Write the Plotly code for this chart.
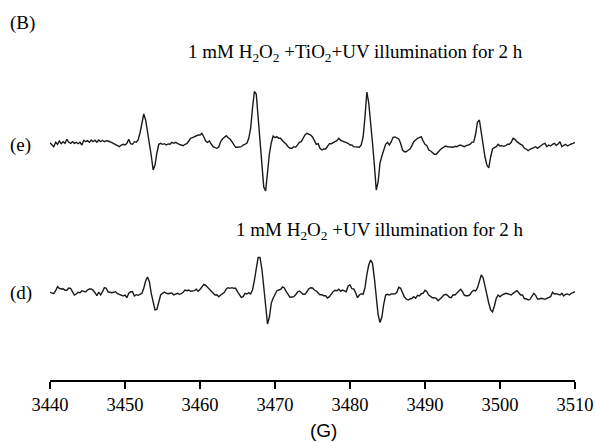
import numpy as np
import plotly.graph_objects as go

# Magnetic field sweep (G), uniform 0.25 G sampling of the spectrometer
field_start = 3440.0
field_step = 0.25
tick_values = [3440, 3450, 3460, 3470, 3480, 3490, 3500, 3510]
axis_title = "(G)"
label_e = "(e)"
label_d = "(d)"
panel_label = "(B)"
title_e = "1 mM H<sub>2</sub>O<sub>2</sub> +TiO<sub>2</sub>+UV illumination for 2 h"
title_d = "1 mM H<sub>2</sub>O<sub>2</sub> +UV illumination for 2 h"

# Spectrum (e): 1 mM H2O2 + TiO2 + UV, intensity (a.u.)
spectrum_e = [
    2.3, 0.7, -1.7, 2.7, 0.7, 4, 1.3, 3.3, 1.7, 5.7,
    2.7, 1.7, 3.3, 1.7, 2.7, 1.3, 2.7, 0, 4.7, 3.3,
    4.3, 2.7, 5, 3.3, 4.7, 2.7, 5, 3.3, 4.7, 3.3,
    4.3, 4, 2.7, 2.3, 1.3, 0, -1.3, -1.7, 0, 0.7,
    0, 1.7, 5.7, 1.3, 0.7, 3.3, 2.7, 5, 12, 20,
    31, 25, 14, 1.5, -10.5, -25, -20, -8, 0.7, 1.7,
    0.7, 1.3, 0, 1, 0.7, 2.7, 1.7, 2.7, 1.3, 0.7,
    0, -0.7, 0.7, 1.3, 4, 6.7, 7.3, 8.3, 9.3, 10,
    10,
    11.7, 8.3, 4, 2.7, 4, 1, -1.7, -2.7, -3.3, -2,
    3.3, 6, 7.3, 9.3, 7.3, 6, 3.3, 0, -2.3, -2.3,
    -2.3, -1.7, 0, 0.7, 1.7, 6.7, 16.7, 36.7, 53.5, 51,
    27, 5, -14, -42, -46, -26, -9, 2, 9, 7.3,
    8.3, 6.7, 6.7, 4.3, 2.7, 0.7, -1.7, -3.3, -3.3, -1.7,
    -2.3, 0.7, 2.7, 3.3, 6.7, 10, 11.7, 11, 10, 8,
    4, 0.7, 1.3, -3.3, -5, -4, -4, -0.7, 1.3, 1.3,
    2.7, 3.3, 4.3, 6.7, 4.7, 4, 3.3, 2.7, 1.7, 0,
    0, -1.7,
    -2, -1.7, -2.3, 0, 8, 28.3, 53, 42, 24, 2,
    -20, -45, -37, -18, -11, -6, 0.7, 2.7, 0, 3.3,
    7.7, 8, 6.7, 6, 1.7, -5, -6.7, -6.7, -5.3, -4,
    -0.7, 3.3, 5, 6.7, 7.3, 8.3, 4, 0.7, -0.7, -5,
    -6, -7.3, -9.3, -9.3, -6.7, -5, -3.3, -1.7, -1, -1.7,
    -2, -1.7, -2.3, -1.3, -1.7, -0.7, 0, -1, -1.7, -0.7,
    0, 0.7, 2.7, 3, 11, 23, 25, 12, 1, -12,
    -20, -23, -12, -4, -2.7, -1.7, 0.7, -1, -0.7, -1.3,
    -0.7, 0.7,
    0.7, 2.7, 6.7, 5.7, 3.3, 1.7, 0.7, -0.3, -3.3, -4,
    -5.7, -4.3, -3.3, -2.3, -1.7, -3.3, -1.7, -0.3, 1, 1.7,
    -1.7, 0, -1, 0.7, 1.7, -0.3, 1, 3.3, -1.7, -0.3,
    0.7, -1, 0.3, 1, 1.7, 2.7,
]

# Spectrum (d): 1 mM H2O2 + UV, intensity (a.u.)
spectrum_d = [
    0.7, -0.3, -0.7, 2.3, 6.3, 4.7, 4, 4.3, 2.7, 2.7,
    5, 4.7, 1.3, -2, -1, 0.7, 0.3, 2.3, 1.7, 1,
    3, 4, 4, 2.7, 0.3, -2.7, 1, -2, 1.3, 5.3,
    4.7, 1, 0.7, 0.3, 0.7, 1.3, -0.7, -1.3, -2.3, -3,
    -2, -4.7, -0.3, 1.3, 1.3, -3, -1.7, -2.3, -1.3, -0.3,
    4.7, 12, 16, 11.3, -0.3, -10.3, -17, -16.5, -8, -2,
    -0.3, 1, -0.3, -0.7, -0.3, -0.3, -2, -1, -0.3, -1.3,
    -0.7, 0.7, 3, 2.3, 3, 1.7, 2.3, 2.3, 3.7, 1.7,
    3.5,
    6.3, 8.7, 7.7, 5.7, 3.7, 1.7, 0, -2, -1.7, -3.7,
    -2, -0.7, 0.7, 4, 5.3, 4.7, 5.3, 4.7, 4.7, 1.3,
    -2, -4.3, -3.7, -0.3, -1, 0.3, -1, 3, 12.7, 25.3,
    35.5, 35.5, 24, 6.3, -17, -31, -24, -10.3, -5.3, -1.3,
    2.3, 3, 3.7, 6, 5, 1.3, -2.3, -4.3, -4, -3.7,
    -1.7, 1, 2, 0.7, -1.3, -1.3, 2, 4, 5.3, 5,
    3, 2, 0, -1.7, -1.7, -2.7, -2.7, -5, -3.7, -1,
    1.3, 2.7, 2.3, 3.7, 1.7, 3, 2, 1.3, 7, 8,
    4.3, 4,
    0.3, -4.7, -2, -0.7, -1.3, 5.3, 18.7, 28, 33, 29.7,
    14.7, -3.7, -22, -29.5, -24, -11, -2, -1.3, -2, -1,
    -1, -0.7, 0.7, 5.7, 4.7, 0.7, -4, -6, -7, -6,
    -5.3, -3.7, -5.3, -2.3, -3, -0.7, -0.3, 2.7, 1.3, -2,
    -3.7, -4.7, -4.7, -5.3, -7.7, -6.3, -4.3, -2, -1.3, -2.3,
    -4.3, -4.7, -1.7, -2, -0.3, 1.3, 3.7, 1.3, -2.3, -2.7,
    -2.7, -1.7, 1.3, 2.7, 2, 5.3, 10.7, 18, 15.3, 6.3,
    -0.3, -10, -17, -19, -13, -5.3, -2, -3.7, -2, -1.3,
    -0.3, -0.7,
    -1, -2, -0.3, 1.3, 2.3, 0.3, -2, -2, -5.7, -5.7,
    -7, -6.3, -3.7, -0.3, -2.3, -6, -6, -5.3, -5.7, -6.3,
    -5.3, -4.7, -3.7, 0.7, -1, -0.7, -1, -2, -0.3, -3,
    -1.3, -1, -2, -0.3, 0.3, 1.3,
]

field = field_start + field_step * np.arange(len(spectrum_e))

# ---- layout constants (pixels in a 596x442 canvas) ----
W, H = 596, 442
ML, MR, MT, MB = 50, 21, 0, 62
plot_w = W - ML - MR
plot_h = H - MT - MB
offset_e = plot_h - 145   # baseline of spectrum (e)
offset_d = plot_h - 293   # baseline of spectrum (d)


def px(x):
    return (x - ML) / plot_w


def py(y):
    return (plot_h + MT - y) / plot_h


line_style = dict(color="#1a1a1a", width=1.4)

fig = go.Figure()
fig.add_trace(go.Scatter(x=field, y=np.array(spectrum_e) + offset_e, mode="lines",
                         line=line_style, showlegend=False, hoverinfo="skip"))
fig.add_trace(go.Scatter(x=field, y=np.array(spectrum_d) + offset_d, mode="lines",
                         line=line_style, showlegend=False, hoverinfo="skip"))

serif = "Liberation Serif, Times New Roman, serif"
sans = "Liberation Sans, Arial, sans-serif"

annotations = [
    dict(text=panel_label, x=px(8), y=py(23), xanchor="left", yanchor="middle",
         font=dict(family=serif, size=19, color="black")),
    dict(text=label_e, x=px(8), y=py(145), xanchor="left", yanchor="middle",
         font=dict(family=serif, size=19, color="black")),
    dict(text=label_d, x=px(8), y=py(293), xanchor="left", yanchor="middle",
         font=dict(family=serif, size=19, color="black")),
    dict(text=title_e, x=px(525), y=py(53), xanchor="right", yanchor="middle",
         font=dict(family=serif, size=19, color="black")),
    dict(text=title_d, x=px(526), y=py(231), xanchor="right", yanchor="middle",
         font=dict(family=serif, size=19, color="black")),
    dict(text=axis_title, x=px(323), y=py(430), xanchor="center", yanchor="middle",
         font=dict(family=sans, size=19, color="black")),
]
for a in annotations:
    a.update(xref="paper", yref="paper", showarrow=False)

fig.update_layout(
    width=W, height=H,
    margin=dict(l=ML, r=MR, t=MT, b=MB, pad=0),
    paper_bgcolor="white", plot_bgcolor="white",
    annotations=annotations,
    hovermode=False,
    xaxis=dict(range=[3440, 3510], tickvals=tick_values,
               ticktext=[str(v) for v in tick_values],
               showline=True, linecolor="black", linewidth=1.5,
               ticks="outside", ticklen=7, tickwidth=1.5, tickcolor="black",
               showgrid=False, zeroline=False, fixedrange=True,
               tickfont=dict(family=serif, size=18.5, color="black")),
    yaxis=dict(range=[0, plot_h], visible=False, fixedrange=True),
)

fig.write_html("out.html",
               config={"displayModeBar": False, "staticPlot": True},
               post_script="document.body.style.margin='0';document.body.style.overflow='hidden';")
